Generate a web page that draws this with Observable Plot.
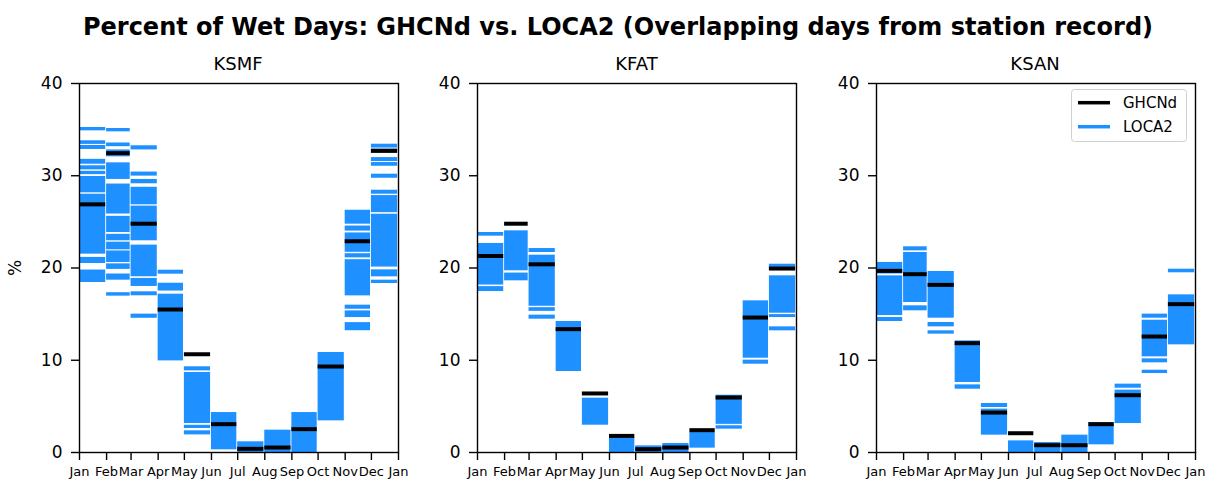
<!DOCTYPE html>
<html>
<head>
<meta charset="utf-8">
<script src="https://cdn.jsdelivr.net/npm/d3@7"></script>
<script src="https://cdn.jsdelivr.net/npm/@observablehq/plot@0.6"></script>
<style>
  body { margin: 0; background: #fff; }
  #fig { position: relative; width: 1206px; height: 485px; overflow: hidden; background: #fff; font-family: "DejaVu Sans", sans-serif; color: #000; }
  .panel { position: absolute; }
  #overlay { position: absolute; left: 0; top: 0; pointer-events: none; }
</style>
</head>
<body>
<div id="fig"></div>
<script>
// Month layout (day-of-year axis)
const monthNames = ["Jan","Feb","Mar","Apr","May","Jun","Jul","Aug","Sep","Oct","Nov","Dec"];
const monthLengths = [31, 28, 31, 30, 31, 30, 31, 31, 30, 31, 30, 31];
const tickLabels = ["Jan","Feb","Mar","Apr","May","Jun","Jul","Aug","Sep","Oct","Nov","Dec","Jan"];
const stations = ["KSMF", "KFAT", "KSAN"];
const yTicks = [0, 10, 20, 30, 40];

// Observed percent of wet days per month (GHCNd)
const ghcndKSMF = [26.9, 32.45, 24.8, 15.5, 10.65, 3.07, 0.4, 0.54, 2.53, 9.32, 22.9, 32.7];
const ghcndKFAT = [21.3, 24.8, 20.4, 13.37, 6.4, 1.8, 0.36, 0.54, 2.42, 5.96, 14.63, 19.94];
const ghcndKSAN = [19.69, 19.33, 18.17, 11.85, 4.33, 2.09, 0.79, 0.79, 3.07, 6.21, 12.57, 16.08];

// LOCA2 ensemble percent of wet days per month, as [low, high] ranges covered by members
const loca2KSMF = [
  [[34.87,35.23],[33.40,33.79],[32.85,33.28],[31.25,31.78],[30.64,31.08],[30.12,30.48],[28.15,29.92],[21.50,28.00],[20.49,21.15],[18.43,19.78]],
  [[34.76,35.12],[33.15,33.55],[32.05,32.80],[29.60,31.40],[25.85,29.10],[23.85,25.60],[22.95,23.65],[21.97,22.80],[20.60,21.85],[19.85,20.45],[18.68,19.35],[16.95,17.32]],
  [[32.80,33.25],[29.96,30.40],[29.13,29.60],[26.85,28.75],[22.95,26.71],[19.05,22.48],[18.00,18.87],[16.99,17.42],[14.55,15.00]],
  [[19.33,19.76],[17.50,18.35],[9.93,17.16]],
  [[8.85,9.29],[3.14,8.67],[2.60,2.95],[1.91,2.35]],
  [[0.29,4.33]],
  [[0,1.16]],
  [[0,2.42]],
  [[0,4.33]],
  [[3.43,10.84]],
  [[24.75,26.26],[24.00,24.55],[21.70,23.80],[21.10,21.55],[16.98,20.90],[15.53,15.97],[14.63,15.35],[13.20,14.08]],
  [[33.00,33.42],[32.45,32.90],[31.54,31.97],[31.03,31.43],[29.73,30.17],[28.00,28.43],[26.00,27.85],[20.10,25.83],[19.04,19.80],[18.32,18.68]]
];
const loca2KFAT = [
  [[23.45,23.85],[18.15,22.66],[17.45,17.98]],
  [[19.70,24.03],[18.61,19.45]],
  [[21.68,22.11],[15.85,21.39],[15.30,15.70],[14.45,14.89]],
  [[8.78,14.20]],
  [[2.96,5.89]],
  [[0,1.63]],
  [[0,0.72]],
  [[0,0.97]],
  [[0.47,2.17]],
  [[3.05,6.21],[2.53,2.90]],
  [[10.22,16.44],[9.57,10.01]],
  [[19.85,20.41],[15.10,19.15],[14.63,14.95],[13.19,13.62]]
];
const loca2KSAN = [
  [[19.35,20.60],[14.85,19.15],[14.20,14.63]],
  [[21.86,22.30],[16.26,21.68],[15.36,15.90]],
  [[14.56,19.62],[13.62,14.09],[12.83,13.19]],
  [[7.59,12.10],[6.86,7.33]],
  [[4.88,5.31],[1.88,4.70]],
  [[0,1.26]],
  [[0,1.08]],
  [[0,1.88]],
  [[0.83,3.25]],
  [[6.97,7.41],[3.14,6.76]],
  [[14.56,15.00],[10.37,14.34],[9.72,10.15],[8.56,8.92]],
  [[19.48,19.87],[11.67,17.09]]
];

const ghcndByStation = {KSMF: ghcndKSMF, KFAT: ghcndKFAT, KSAN: ghcndKSAN};
const loca2ByStation = {KSMF: loca2KSMF, KFAT: loca2KFAT, KSAN: loca2KSAN};

// Month start (day of year) and the last day of each month
const monthStarts = monthLengths.map((_, i) => d3.sum(monthLengths.slice(0, i)));
const yearLength = d3.sum(monthLengths);
const tickPositions = [...monthStarts, yearLength];
const tickLabelAt = new Map(tickPositions.map((p, i) => [p, tickLabels[i]]));

const BLUE = "#1e90ff";
const fig = document.getElementById("fig");

// Panel geometry
const plotW = 319, plotH = 369;
const mL = 60, mR = 12, mT = 12, mB = 36;
const plotLefts = [78.5, 477, 875.5];
const plotTop = 82.7;

stations.forEach((st, si) => {
  const bands = [];
  loca2ByStation[st].forEach((ranges, m) => {
    ranges.forEach(([lo, hi]) => bands.push({
      month: monthNames[m], x1: monthStarts[m], x2: monthStarts[m] + monthLengths[m] - 1, lo, hi
    }));
  });
  const obs = ghcndByStation[st].map((v, m) => ({
    month: monthNames[m], x1: monthStarts[m], x2: monthStarts[m] + monthLengths[m] - 1, v
  }));

  const chart = Plot.plot({
    width: mL + plotW + mR,
    height: mT + plotH + mB,
    marginLeft: mL, marginRight: mR, marginTop: mT, marginBottom: mB,
    style: {fontFamily: "DejaVu Sans, sans-serif", color: "#000", background: "transparent", overflow: "visible"},
    x: {domain: [0, yearLength]},
    y: {domain: [0, 40]},
    marks: [
      Plot.rect(bands, {x1: "x1", x2: "x2", y1: "lo", y2: "hi", fill: BLUE}),
      Plot.ruleY(obs, {y: "v", x1: "x1", x2: "x2", stroke: "#000", strokeWidth: 4}),
      Plot.frame({stroke: "#000", strokeWidth: 1.4}),
      Plot.axisY({ticks: yTicks, tickSize: 8, tickPadding: 9, fontSize: 17, strokeWidth: 1.4, label: null}),
      Plot.axisX({ticks: tickPositions, tickFormat: d => tickLabelAt.get(d), tickSize: 8, tickPadding: 6, fontSize: 13, strokeWidth: 1.4, label: null})
    ]
  });
  const holder = document.createElement("div");
  holder.className = "panel";
  holder.style.left = (plotLefts[si] - mL) + "px";
  holder.style.top = (plotTop - mT) + "px";
  holder.style.width = (mL + plotW + mR) + "px";
  holder.appendChild(chart);
  fig.appendChild(holder);
});

// Titles, y label and legend
const overlay = d3.select(fig).append("svg")
  .attr("id", "overlay")
  .attr("width", 1206).attr("height", 485)
  .style("font-family", "DejaVu Sans, sans-serif");

overlay.append("text")
  .attr("x", 618).attr("y", 35)
  .attr("text-anchor", "middle")
  .attr("font-weight", "bold").attr("font-size", 24)
  .text("Percent of Wet Days: GHCNd vs. LOCA2 (Overlapping days from station record)");

stations.forEach((st, si) => {
  overlay.append("text")
    .attr("x", plotLefts[si] + plotW / 2).attr("y", 70)
    .attr("text-anchor", "middle").attr("font-size", 18)
    .text(st);
});

overlay.append("text")
  .attr("transform", "translate(21,268) rotate(-90)")
  .attr("text-anchor", "middle").attr("font-size", 17)
  .text("%");

const lg = overlay.append("g");
lg.append("rect")
  .attr("x", 1071.5).attr("y", 89.5).attr("width", 115).attr("height", 52).attr("rx", 3)
  .attr("fill", "#fff").attr("fill-opacity", 0.85).attr("stroke", "#d0d0d0");
const legendItems = [{label: "GHCNd", color: "#000"}, {label: "LOCA2", color: BLUE}];
legendItems.forEach((it, i) => {
  const y = 102.7 + i * 24;
  lg.append("line").attr("x1", 1078).attr("x2", 1110).attr("y1", y).attr("y2", y)
    .attr("stroke", it.color).attr("stroke-width", 3.5);
  lg.append("text").attr("x", 1123).attr("y", y + 5.5).attr("font-size", 15).text(it.label);
});
</script>
</body>
</html>
